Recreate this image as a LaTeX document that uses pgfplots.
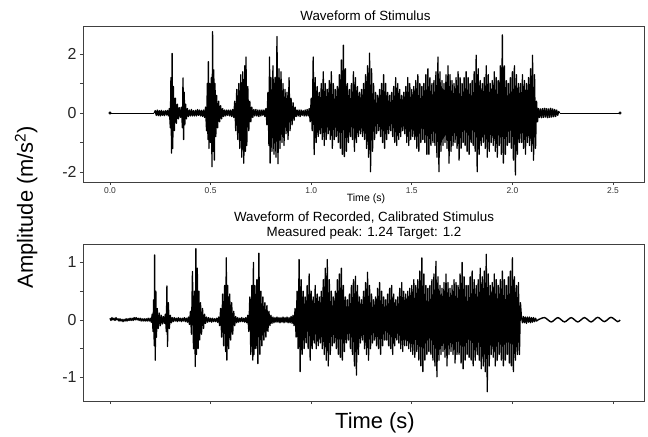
\documentclass[border=0pt]{standalone}
\usepackage{fontspec}
\setmainfont{Liberation Sans}
\usepackage{pgfplots}
\pgfplotsset{compat=1.18}
\begin{document}
\begin{tikzpicture}
\pgfplotsset{
  wave/.style={scale only axis, width=561bp, xmin=-0.134, xmax=2.654,
    tick align=outside, tick pos=left,
    axis line style={black!75, line width=0.6pt},
    major tick length=3bp,
    every tick/.style={black!75, line width=0.6pt},
    /pgf/number format/assume math mode=true,
    yticklabel style={font=\fontsize{16}{18}\selectfont, text=black!85},
    xtick={0,0.5,1,1.5,2,2.5}},
  sig/.style={black, line width=1.3pt, line join=round, mark=none}
}
\path[use as bounding box] (-83bp,26bp) rectangle (565bp,-411bp);
% ---------------- top panel ----------------
\begin{axis}[wave, at={(0,0)}, anchor=north west, height=156bp,
  ymin=-2.34, ymax=2.95, ytick={-2,-1,0,1,2}, yticklabels={-2,,0,,2},
  xticklabels={0.0,0.5,1.0,1.5,2.0,2.5},
  xticklabel style={font=\fontsize{8.5}{10}\selectfont, text=black!80, yshift=1bp}]
\addplot[black, line width=0.8pt, mark=none] coordinates {(0,0) (0.22,0)};
\addplot[sig] coordinates {
(0.22,0)
(0.225,0.08) (0.23,-0.08) (0.235,0.1) (0.24,-0.09) (0.245,0.08) (0.25,-0.1) (0.255,0.09) (0.26,-0.08) (0.265,0.07) (0.27,-0.09) (0.275,0.08) (0.28,-0.07) (0.285,0.09) (0.29,-0.1) (0.295,0.15)
(0.30,-0.5) (0.303,1.2) (0.306,-1.36) (0.309,2.02) (0.312,-1.2) (0.315,0.9) (0.32,-0.6) (0.325,0.5) (0.33,-0.35) (0.335,0.3) (0.34,-0.2) (0.345,0.18) (0.35,-0.15) (0.355,0.2)
(0.36,-0.5) (0.363,1.19) (0.366,-0.9) (0.369,0.7) (0.372,-0.4) (0.376,0.3) (0.38,-0.2) (0.385,0.15) (0.39,-0.12) (0.395,0.1)
(0.40,-0.1) (0.405,0.12) (0.41,-0.1) (0.415,0.08) (0.42,-0.1) (0.425,0.09) (0.43,-0.1) (0.435,0.12) (0.44,-0.08) (0.445,0.1) (0.45,-0.1) (0.455,0.09) (0.46,-0.12) (0.465,0.1) (0.47,-0.15) (0.475,0.2)
(0.48,-0.6) (0.484,1.0) (0.487,-0.9) (0.489,1.74) (0.492,-1.2) (0.496,1.0) (0.50,-1.0) (0.504,1.2) (0.507,-1.82) (0.510,2.76) (0.513,-1.3) (0.516,1.46) (0.519,-1.6) (0.522,1.0) (0.526,-0.8) (0.53,0.6) (0.535,-0.5) (0.54,0.4) (0.545,-0.3) (0.55,0.25) (0.555,-0.2) (0.56,0.15)
(0.565,-0.12) (0.57,0.1) (0.575,-0.1) (0.58,0.1) (0.585,-0.08) (0.59,0.1) (0.595,-0.1) (0.60,0.1) (0.605,-0.12) (0.61,0.12) (0.615,-0.15)
(0.62,0.4) (0.625,-0.6) (0.63,0.8) (0.635,-0.9) (0.64,1.0) (0.645,-1.2) (0.65,1.3) (0.655,-1.5) (0.66,1.4) (0.665,-1.7) (0.67,1.6) (0.673,-1.3) (0.676,1.9) (0.68,-1.1) (0.685,0.9) (0.69,-0.6) (0.695,0.4) (0.70,-0.3) (0.705,0.2)
(0.71,-0.15) (0.715,0.12) (0.72,-0.1) (0.725,0.12) (0.73,-0.1) (0.735,0.1) (0.74,-0.12) (0.745,0.1) (0.75,-0.1) (0.755,0.1) (0.76,-0.08) (0.765,0.1) (0.77,-0.12) (0.775,0.15)
(0.78,-0.4) (0.785,0.7) (0.79,-1.1) (0.793,1.9) (0.796,-1.7) (0.80,1.2) (0.805,-1.3) (0.81,1.6) (0.815,-1.4) (0.82,1.2) (0.825,-1.5) (0.83,2.59) (0.835,-1.72) (0.84,1.5) (0.845,-1.2) (0.85,1.4) (0.855,-1.0) (0.86,1.0) (0.865,-1.1) (0.87,0.8) (0.875,-0.7) (0.88,0.7) (0.885,-0.9) (0.89,1.2) (0.895,-0.6) (0.90,0.5) (0.905,-0.4) (0.91,0.35) (0.915,-0.25) (0.92,0.2)
(0.925,-0.12) (0.93,0.1) (0.935,-0.1) (0.94,0.1) (0.945,-0.12) (0.95,0.1) (0.955,-0.08) (0.96,0.08) (0.965,-0.1) (0.97,0.1) (0.975,-0.1) (0.98,0.12) (0.985,-0.1) (0.99,0.15) (0.995,-0.3)
(1.00,0.5)(1.005,-0.6)(1.01,1.9)(1.015,-1.41)(1.02,1.2)(1.025,-1.0)(1.03,0.9)(1.035,-0.8)(1.04,0.7)(1.045,-0.7)(1.05,1.0)(1.055,-0.9)(1.06,1.4)(1.065,-1.1)(1.07,1.0)(1.075,-0.9)(1.08,0.8)(1.085,-0.7)(1.09,1.1)(1.095,-0.9)
(1.10,1.4)(1.105,-1.2)(1.11,1.0)(1.115,-0.9)(1.12,0.8)(1.125,-0.8)(1.13,0.9)(1.135,-1.0)(1.14,1.3)(1.145,-1.2)(1.15,1.8)(1.155,-1.4)(1.16,2.3)(1.165,-1.48)(1.17,1.5)(1.175,-1.3)(1.18,1.0)(1.185,-1.0)(1.19,0.8)(1.195,-0.8)
(1.20,1.0)(1.205,-0.9)(1.21,1.4)(1.215,-1.3)(1.22,1.2)(1.225,-1.0)(1.23,0.9)(1.235,-0.8)(1.24,0.7)(1.245,-0.7)(1.25,0.8)(1.255,-0.8)(1.26,1.0)(1.265,-0.9)(1.27,1.3)(1.275,-1.2)(1.28,1.6)(1.285,-1.5)(1.29,2.03)(1.295,-1.99)
(1.30,1.5)(1.305,-1.3)(1.31,1.0)(1.315,-0.9)(1.32,0.7)(1.325,-0.7)(1.33,0.6)(1.335,-0.6)(1.34,0.8)(1.345,-0.8)(1.35,1.0)(1.355,-1.0)(1.36,1.3)(1.365,-1.2)(1.37,1.0)(1.375,-0.9)(1.38,0.7)(1.385,-0.7)(1.39,0.6)(1.395,-0.6)
(1.40,0.7)(1.405,-0.8)(1.41,0.9)(1.415,-1.0)(1.42,1.2)(1.425,-1.1)(1.43,1.0)(1.435,-0.9)(1.44,0.8)(1.445,-0.8)(1.45,0.6)(1.455,-0.6)(1.46,0.7)(1.465,-0.7)(1.47,0.9)(1.475,-1.0)(1.48,1.2)(1.485,-1.1)(1.49,1.0)(1.495,-0.9)
(1.50,0.8)(1.505,-0.8)(1.51,0.9)(1.515,-0.9)(1.52,1.1)(1.525,-1.2)(1.53,1.3)(1.535,-1.3)(1.54,1.0)(1.545,-1.0)(1.55,0.9)(1.555,-0.9)(1.56,1.0)(1.565,-1.0)(1.57,1.3)(1.575,-1.4)(1.58,1.5)(1.585,-1.4)(1.59,1.2)(1.595,-1.1)
(1.60,1.0)(1.605,-1.0)(1.61,1.1)(1.615,-1.1)(1.62,1.4)(1.625,-1.5)(1.63,1.9)(1.635,-1.99)(1.64,1.4)(1.645,-1.3)(1.65,1.1)(1.655,-1.1)(1.66,1.0)(1.665,-1.0)(1.67,1.3)(1.675,-1.2)(1.68,1.6)(1.685,-1.7)(1.69,1.3)(1.695,-1.3)
(1.70,1.1)(1.705,-1.1)(1.71,1.0)(1.715,-1.0)(1.72,1.2)(1.725,-1.2)(1.73,1.4)(1.735,-1.6)(1.74,1.2)(1.745,-1.2)(1.75,1.0)(1.755,-1.0)(1.76,1.2)(1.765,-1.1)(1.77,1.4)(1.775,-1.3)(1.78,1.2)(1.785,-1.4)(1.79,1.0)(1.795,-1.0)
(1.80,1.1)(1.805,-1.1)(1.81,1.4)(1.815,-1.3)(1.82,1.96)(1.825,-1.99)(1.83,1.5)(1.835,-1.4)(1.84,1.1)(1.845,-1.1)(1.85,1.0)(1.855,-1.0)(1.86,1.2)(1.865,-1.2)(1.87,1.6)(1.875,-1.5)(1.88,1.3)(1.885,-1.3)(1.89,1.0)(1.895,-1.0)
(1.90,1.1)(1.905,-1.1)(1.91,1.4)(1.915,-1.3)(1.92,1.2)(1.925,-1.5)(1.93,1.1)(1.935,-1.1)(1.94,1.6)(1.945,-1.4)(1.95,2.65)(1.955,-1.7)(1.96,1.6)(1.965,-1.4)(1.97,1.1)(1.975,-1.1)(1.98,1.0)(1.985,-1.0)(1.99,1.2)(1.995,-1.2)
(2.00,1.4)(2.005,-1.6)(2.01,1.6)(2.015,-2.1)(2.02,1.3)(2.025,-1.4)(2.03,1.0)(2.035,-1.0)(2.04,1.0)(2.045,-1.0)(2.05,1.3)(2.055,-1.2)(2.06,1.1)(2.065,-1.4)(2.07,1.0)(2.075,-1.0)(2.08,1.2)(2.085,-1.1)(2.09,1.5)(2.095,-1.3)
(2.10,1.96)(2.105,-1.6)(2.11,1.3)(2.115,-1.2)
(2.12,0.4)(2.125,-0.3)(2.13,0.15)(2.135,-0.15)(2.14,0.14)(2.145,-0.16)(2.15,0.15)(2.155,-0.15)(2.16,0.16)(2.165,-0.14)(2.17,0.15)(2.175,-0.16)(2.18,0.14)(2.185,-0.15)(2.19,0.16)(2.195,-0.14)(2.2,0.14)(2.205,-0.13)(2.21,0.12)(2.215,-0.12)(2.22,0.1)(2.225,-0.08)(2.23,0.05)(2.235,0)
};
\addplot[black, line width=0.8pt, mark=none] coordinates {(2.235,0) (2.535,0)};
\addplot[only marks, mark=*, mark size=1.3pt, black] coordinates {(0,0) (2.535,0)};
\end{axis}
% ---------------- bottom panel ----------------
\begin{axis}[wave, at={(0,-218bp)}, anchor=north west, height=157bp,
  ymin=-1.41, ymax=1.32, ytick={-1,-0.5,0,0.5,1}, yticklabels={-1,,0,,1},
  xticklabels={}]
\addplot[sig] coordinates {
(0,0.03)(0.005,-0.01)(0.01,0.04)(0.015,0.0)(0.02,0.03)(0.025,-0.01)(0.03,0.04)(0.035,0.0)(0.04,0.02)(0.045,-0.02)(0.05,0.02)(0.055,-0.02)(0.06,0.01)(0.065,-0.03)(0.07,0.01)(0.075,-0.02)(0.08,0.02)(0.085,-0.02)(0.09,0.02)(0.095,-0.01)(0.1,0.03)(0.105,-0.01)(0.11,0.03)(0.115,-0.01)(0.12,0.04)(0.125,0.0)(0.13,0.04)(0.135,0.0)(0.14,0.03)(0.145,-0.01)(0.15,0.03)(0.155,-0.02)(0.16,0.02)(0.165,-0.02)(0.17,0.02)(0.175,-0.02)(0.18,0.02)(0.185,-0.02)(0.19,0.03)(0.195,-0.02)(0.2,0.03)(0.205,-0.04)
(0.21,0.1)(0.214,-0.2)(0.217,0.35)(0.22,-0.45)(0.222,1.13)(0.225,-0.70)(0.228,0.5)(0.231,-0.3)(0.235,0.2)(0.24,-0.15)(0.245,0.12)(0.25,-0.1)(0.255,0.08)(0.26,-0.07)(0.265,0.06)(0.27,-0.06)(0.275,0.1)
(0.28,-0.2)(0.283,0.59)(0.286,-0.46)(0.29,0.3)(0.295,-0.15)(0.30,0.08)(0.305,-0.05)
(0.31,0.04)(0.315,-0.03)(0.32,0.04)(0.325,-0.02)(0.33,0.03)(0.335,-0.03)(0.34,0.04)(0.345,-0.02)(0.35,0.03)(0.355,-0.03)(0.36,0.03)(0.365,-0.02)(0.37,0.04)(0.375,-0.03)(0.38,0.03)(0.385,-0.04)(0.39,0.05)(0.395,-0.08)
(0.40,0.15)(0.405,-0.25)(0.41,0.84)(0.415,-0.5)(0.42,0.5)(0.424,-0.81)(0.427,1.24)(0.43,-0.6)(0.434,0.9)(0.438,-0.5)(0.442,0.5)(0.446,-0.35)(0.45,0.3)(0.455,-0.25)(0.46,0.2)(0.465,-0.15)(0.47,0.1)
(0.475,-0.06)(0.48,0.05)(0.485,-0.04)(0.49,0.04)(0.495,-0.03)(0.5,0.03)(0.505,-0.04)(0.51,0.03)(0.515,-0.03)(0.52,0.02)(0.525,-0.03)(0.53,0.03)(0.535,-0.04)(0.54,0.05)
(0.545,-0.1)(0.55,0.2)(0.555,-0.3)(0.56,0.45)(0.565,-0.45)(0.57,0.6)(0.575,-0.55)(0.578,1.08)(0.581,-0.70)(0.585,0.6)(0.59,-0.5)(0.595,0.45)(0.60,-0.35)(0.605,0.3)(0.61,-0.25)(0.615,0.15)(0.62,-0.1)
(0.625,0.06)(0.63,-0.05)(0.635,0.04)(0.64,-0.04)(0.645,0.03)(0.65,-0.03)(0.655,0.04)(0.66,-0.03)(0.665,0.03)(0.67,-0.04)(0.675,0.04)(0.68,-0.05)(0.685,0.08)
(0.69,-0.2)(0.695,0.4)(0.70,-0.6)(0.705,0.6)(0.71,-0.7)(0.713,1.0)(0.716,-0.6)(0.72,0.6)(0.725,-0.5)(0.73,0.7)(0.735,-0.76)(0.74,1.16)(0.745,-0.6)(0.75,0.5)(0.755,-0.45)(0.76,0.4)(0.765,-0.35)(0.77,0.3)(0.775,-0.3)(0.78,0.25)(0.785,-0.2)(0.79,0.15)(0.795,-0.1)(0.80,0.08)
(0.805,-0.06)(0.81,0.05)(0.815,-0.05)(0.82,0.04)(0.825,-0.04)(0.83,0.05)(0.835,-0.04)(0.84,0.04)(0.845,-0.05)(0.85,0.04)(0.855,-0.04)(0.86,0.05)(0.865,-0.05)(0.87,0.04)(0.875,-0.04)(0.88,0.05)(0.885,-0.05)(0.89,0.04)(0.895,-0.05)(0.9,0.06)(0.905,-0.06)(0.91,0.08)(0.915,-0.1)(0.92,0.2)(0.925,-0.3)
(0.93,0.5)(0.935,-0.5)(0.94,1.05)(0.945,-0.9)(0.95,0.7)(0.955,-0.6)(0.96,0.5)(0.965,-0.5)(0.97,0.4)(0.975,-0.4)(0.98,0.6)(0.985,-0.5)(0.99,0.8)(0.995,-0.7)
(1.00,0.5)(1.005,-0.5)(1.01,0.4)(1.015,-0.4)(1.02,0.6)(1.025,-0.5)(1.03,0.45)(1.035,-0.45)(1.04,0.4)(1.045,-0.4)(1.05,0.5)(1.055,-0.5)(1.06,0.7)(1.065,-0.6)(1.07,0.9)(1.075,-0.7)(1.08,1.05)(1.085,-0.8)(1.09,0.7)(1.095,-0.6)
(1.10,0.5)(1.105,-0.45)(1.11,0.4)(1.115,-0.4)(1.12,0.5)(1.125,-0.5)(1.13,0.7)(1.135,-0.6)(1.14,0.8)(1.145,-0.65)(1.15,0.9)(1.155,-0.7)(1.16,0.6)(1.165,-0.55)(1.17,0.4)(1.175,-0.4)(1.18,0.35)(1.185,-0.35)(1.19,0.45)(1.195,-0.5)
(1.20,0.6)(1.205,-0.6)(1.21,0.7)(1.215,-0.8)(1.22,0.76)(1.225,-0.96)(1.23,0.6)(1.235,-0.6)(1.24,0.4)(1.245,-0.4)(1.25,0.35)(1.255,-0.35)(1.26,0.5)(1.265,-0.5)(1.27,0.65)(1.275,-0.6)(1.28,0.83)(1.285,-0.7)(1.29,0.6)(1.295,-0.5)
(1.30,0.45)(1.305,-0.4)(1.31,0.35)(1.315,-0.35)(1.32,0.4)(1.325,-0.45)(1.33,0.55)(1.335,-0.5)(1.34,0.65)(1.345,-0.6)(1.35,0.5)(1.355,-0.45)(1.36,0.4)(1.365,-0.35)(1.37,0.35)(1.375,-0.35)(1.38,0.45)(1.385,-0.45)(1.39,0.55)(1.395,-0.5)
(1.40,0.6)(1.405,-0.6)(1.41,0.45)(1.415,-0.45)(1.42,0.35)(1.425,-0.35)(1.43,0.4)(1.435,-0.4)(1.44,0.55)(1.445,-0.5)(1.45,0.65)(1.455,-0.55)(1.46,0.5)(1.465,-0.45)(1.47,0.45)(1.475,-0.45)
(1.48,0.5)(1.485,-0.5)(1.49,0.55)(1.495,-0.55)(1.50,0.6)(1.505,-0.6)(1.51,0.7)(1.515,-0.65)(1.52,0.6)(1.525,-0.55)(1.53,0.7)(1.535,-0.7)(1.54,0.85)(1.545,-0.8)(1.55,1.08)(1.555,-0.9)(1.56,0.8)(1.565,-0.7)(1.57,0.6)(1.575,-0.6)(1.58,0.55)(1.585,-0.55)(1.59,0.6)(1.595,-0.6)
(1.60,0.7)(1.605,-0.7)(1.61,0.8)(1.615,-0.8)(1.62,1.02)(1.625,-0.99)(1.63,0.75)(1.635,-0.7)(1.64,0.6)(1.645,-0.6)(1.65,0.55)(1.655,-0.55)(1.66,0.65)(1.665,-0.65)(1.67,0.8)(1.675,-0.8)(1.68,0.65)(1.685,-0.6)(1.69,0.55)(1.695,-0.55)
(1.70,0.6)(1.705,-0.6)(1.71,0.7)(1.715,-0.75)(1.72,0.65)(1.725,-0.6)(1.73,0.6)(1.735,-0.6)(1.74,0.8)(1.745,-0.75)(1.75,1.0)(1.755,-0.85)(1.76,0.75)(1.765,-0.7)(1.77,0.6)(1.775,-0.6)(1.78,0.6)(1.785,-0.65)(1.79,0.75)(1.795,-0.7)
(1.80,0.85)(1.805,-0.8)(1.81,0.7)(1.815,-0.7)(1.82,0.6)(1.825,-0.6)(1.83,0.7)(1.835,-0.7)(1.84,0.9)(1.845,-0.85)(1.85,0.75)(1.855,-0.8)(1.86,0.85)(1.865,-0.9)(1.87,1.14)(1.875,-1.25)(1.88,0.8)(1.885,-0.8)(1.89,0.6)(1.895,-0.6)
(1.90,0.65)(1.905,-0.65)(1.91,0.8)(1.915,-0.8)(1.92,0.7)(1.925,-0.7)(1.93,0.6)(1.935,-0.6)(1.94,0.7)(1.945,-0.7)(1.95,0.85)(1.955,-0.8)(1.96,0.7)(1.965,-0.7)(1.97,0.6)(1.975,-0.6)(1.98,0.75)(1.985,-0.75)(1.99,0.85)(1.995,-0.8)
(2.00,1.08)(2.005,-0.9)(2.01,0.75)(2.015,-0.7)(2.02,0.6)(2.025,-0.6)(2.03,0.65)(2.035,-0.6)(2.04,0.3)
(2.045,0.05)(2.05,-0.05)(2.055,0.06)(2.06,-0.05)(2.065,0.05)(2.07,-0.06)(2.075,0.05)(2.08,-0.04)(2.085,0.05)(2.09,-0.05)(2.095,0.04)(2.1,-0.04)(2.105,0.04)(2.11,-0.03)(2.115,0.03)(2.12,-0.02)(2.127,0)
};
\addplot[black, line width=1.4pt, smooth, mark=none] coordinates {
(2.127,0)(2.16,0.04)(2.193,-0.035)(2.226,0.04)(2.259,-0.035)(2.292,0.04)(2.325,-0.035)(2.358,0.04)(2.391,-0.035)(2.424,0.045)(2.457,-0.03)(2.49,0.045)(2.523,-0.03)(2.535,0.0)
};
\end{axis}
% ---------------- texts ----------------
\node[anchor=base, font=\fontsize{13.4}{15}\selectfont] at (282.5bp,5.3bp) {Waveform of Stimulus};
\node[anchor=base, font=\fontsize{10.6}{12}\selectfont] at (283bp,-175bp) {Time (s)};
\node[anchor=base, font=\fontsize{13.4}{15}\selectfont] at (281bp,-195.3bp) {Waveform of Recorded, Calibrated Stimulus};
\node[anchor=base, font=\fontsize{13.4}{15}\selectfont] at (281bp,-210.3bp) {Measured peak: 1.24 Target: 1.2};
\node[anchor=base, font=\fontsize{22}{26}\selectfont] at (292bp,-402bp) {Time (s)};
\node[anchor=base, rotate=90, font=\fontsize{22}{26}\selectfont] at (-50bp,-181bp) {Amplitude (m/s\textsuperscript{2})};
\end{tikzpicture}
\end{document}
